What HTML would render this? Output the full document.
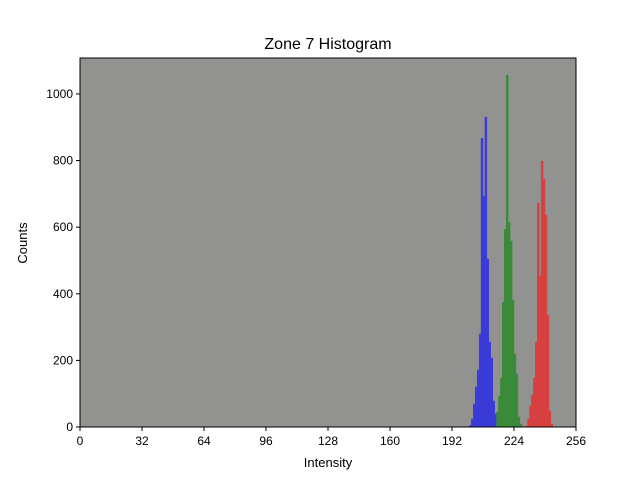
<!DOCTYPE html>
<html><head><meta charset="utf-8"><style>
body{margin:0;background:#fff;}
svg{display:block;font-family:"Liberation Sans","DejaVu Sans",sans-serif;}
</style></head><body>
<svg id="chart" width="640" height="480">
<rect x="0" y="0" width="640" height="480" fill="#fff"/>
<rect x="80" y="58" width="496" height="369" fill="#929390"/>
<g id="bars"></g>
<g id="axes"></g>
<text x="328" y="49" text-anchor="middle" font-size="16">Zone 7 Histogram</text>
<text x="328" y="467" text-anchor="middle" font-size="13">Intensity</text>
<text x="27" y="243" text-anchor="middle" font-size="13" transform="rotate(-90 27 243)">Counts</text>
</svg>
<script>
const xTicks=[0,32,64,96,128,160,192,224,256];
const yTicks=[0,200,400,600,800,1000];
const blueStart=201;
const blueCounts=[5,24,69,120,171,279,867,693,930,504,255,207,78,39,10];
const greenStart=215;
const greenCounts=[45,93,147,375,594,1056,615,558,381,219,159,30,9];
const redStart=230;
const redCounts=[3,24,63,96,147,255,672,453,798,744,636,336,48,9];

const X0=80,X1=576,Y0=427,Y1=58,XMAX=256,YMAX=1108;
const sx=v=>X0+v/XMAX*(X1-X0);
const sy=v=>Y0-v/YMAX*(Y0-Y1);
const NS="http://www.w3.org/2000/svg";
const bars=document.getElementById('bars');
function series(start,counts,color,name){
  counts.forEach((c,i)=>{
    const r=document.createElementNS(NS,'rect');
    const x=sx(start+i),w=sx(start+i+1)-x;
    r.setAttribute('x',x);r.setAttribute('width',w);
    r.setAttribute('y',sy(c));r.setAttribute('height',Y0-sy(c));
    r.setAttribute('fill',color);
    r.setAttribute('stroke',color);
    r.setAttribute('stroke-width','0.5');
    
    
    bars.appendChild(r);
  });
}
series(blueStart,blueCounts,'#3b3bd8','blue');
series(greenStart,greenCounts,'#3a8a3a','green');
series(redStart,redCounts,'#d84040','red');

const axes=document.getElementById('axes');
function el(tag,attrs,text){const e=document.createElementNS(NS,tag);for(const k in attrs)e.setAttribute(k,attrs[k]);if(text!==undefined)e.textContent=text;axes.appendChild(e);return e;}
const frame=el('rect',{x:X0,y:Y1,width:X1-X0,height:Y0-Y1,fill:'none',stroke:'#000','stroke-width':1});


xTicks.forEach(t=>{
  const l=el('line',{x1:sx(t),x2:sx(t),y1:Y0,y2:Y0+4,stroke:'#000'});
  
  
  const tx=el('text',{x:sx(t),y:Y0+18,'text-anchor':'middle','font-size':12},t);
  
  
});
yTicks.forEach(t=>{
  const l=el('line',{x1:X0-4,x2:X0,y1:sy(t),y2:sy(t),stroke:'#000'});
  
  
  const tx=el('text',{x:X0-7,y:sy(t)+4,'text-anchor':'end','font-size':12},t);
  
  
});
</script>
</body></html>
